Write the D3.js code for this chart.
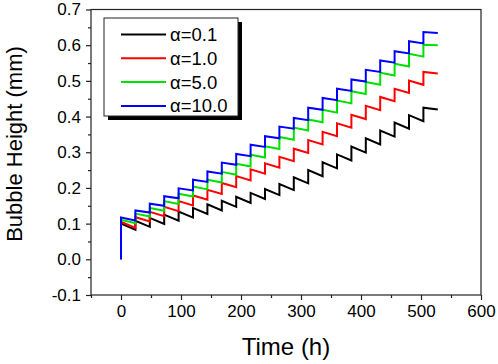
<!DOCTYPE html>
<html>
<head>
<meta charset="utf-8">
<script src="https://cdn.jsdelivr.net/npm/d3@7"></script>
<style>
body { margin: 0; background: #fff; }
svg { display: block; font-family: "Liberation Sans", Arial, sans-serif; }
.axis path, .axis line { stroke: #222; stroke-width: 1.2; }
.axis text { font-size: 17px; fill: #000; }
.series { fill: none; stroke-width: 2; stroke-linejoin: miter; }
</style>
</head>
<body>
<svg id="chart" width="498" height="364"></svg>
<script>
// start time of each charge cycle (h), last entry = end of run
var cycleTimes = [0, 24, 48, 72, 96, 120, 144, 168, 192, 216, 240, 264, 288, 312, 336, 360, 384, 408, 432, 456, 480, 504, 528];

// bubble height right after each step (mm)
var peakA01  = [0.100, 0.108, 0.116, 0.125, 0.134, 0.144, 0.154, 0.164, 0.175, 0.186, 0.197, 0.211, 0.230, 0.250, 0.272, 0.294, 0.316, 0.339, 0.361, 0.383, 0.404, 0.425];
var peakA1   = [0.105, 0.118, 0.133, 0.147, 0.163, 0.179, 0.195, 0.214, 0.233, 0.252, 0.269, 0.287, 0.310, 0.334, 0.357, 0.381, 0.405, 0.430, 0.455, 0.478, 0.501, 0.525];
var peakA5   = [0.111, 0.128, 0.144, 0.163, 0.184, 0.204, 0.223, 0.245, 0.268, 0.293, 0.317, 0.343, 0.369, 0.392, 0.419, 0.445, 0.471, 0.497, 0.523, 0.548, 0.576, 0.601];
var peakA10  = [0.117, 0.137, 0.156, 0.177, 0.199, 0.223, 0.246, 0.271, 0.295, 0.321, 0.345, 0.372, 0.396, 0.425, 0.452, 0.478, 0.504, 0.531, 0.557, 0.583, 0.611, 0.637];

// bubble height at the end of each cycle (mm)
var lowA01   = [0.083, 0.091, 0.099, 0.108, 0.117, 0.127, 0.137, 0.147, 0.158, 0.169, 0.180, 0.194, 0.213, 0.233, 0.255, 0.277, 0.299, 0.322, 0.344, 0.366, 0.387, 0.420];
var lowA1    = [0.088, 0.106, 0.121, 0.135, 0.151, 0.167, 0.183, 0.202, 0.221, 0.240, 0.257, 0.275, 0.298, 0.322, 0.345, 0.369, 0.393, 0.418, 0.443, 0.466, 0.489, 0.521];
var lowA5    = [0.101, 0.120, 0.136, 0.155, 0.176, 0.196, 0.215, 0.237, 0.260, 0.285, 0.309, 0.335, 0.361, 0.384, 0.411, 0.437, 0.463, 0.489, 0.515, 0.540, 0.568, 0.600];
var lowA10   = [0.109, 0.131, 0.150, 0.171, 0.193, 0.217, 0.240, 0.265, 0.289, 0.315, 0.339, 0.366, 0.390, 0.419, 0.446, 0.472, 0.498, 0.525, 0.551, 0.577, 0.605, 0.634];

var seriesNames = ['α=0.1', 'α=1.0', 'α=5.0', 'α=10.0'];
var seriesColors = ['#000000', '#ff0000', '#00e000', '#0000ff'];

var xTicks = [0, 100, 200, 300, 400, 500, 600];
var xMinor = [-50, 50, 150, 250, 350, 450, 550];
var yTicks = [-0.1, 0.0, 0.1, 0.2, 0.3, 0.4, 0.5, 0.6, 0.7];
var yMinor = [-0.05, 0.05, 0.15, 0.25, 0.35, 0.45, 0.55, 0.65];

var svg = d3.select('#chart');
var m = {left: 91, right: 481, top: 9.5, bottom: 295};

var x = d3.scaleLinear().domain([-50, 600]).range([m.left, m.right]);
var y = d3.scaleLinear().domain([-0.1, 0.7]).range([m.bottom, m.top]);

function cycles(peaks, lows){
	var pts = [[0, 0]];
	peaks.forEach(function(p, i){
		pts.push([cycleTimes[i], p]);
		pts.push([cycleTimes[i + 1], lows[i]]);
	});
	return pts;
}

var data = [
	cycles(peakA01, lowA01),
	cycles(peakA1, lowA1),
	cycles(peakA5, lowA5),
	cycles(peakA10, lowA10)
];

var linegen = d3.line()
	.x(function(d){ return x(d[0]) })
	.y(function(d){ return y(d[1]) });

// frame
svg.append('rect')
	.attr('x', m.left).attr('y', m.top)
	.attr('width', m.right - m.left).attr('height', m.bottom - m.top)
	.attr('fill', 'none').attr('stroke', '#222').attr('stroke-width', 1.2);

// axes
svg.append('g').attr('class', 'axis')
	.attr('transform', 'translate(0,' + m.bottom + ')')
	.call(d3.axisBottom(x).tickValues(xTicks).tickSize(5).tickSizeOuter(0).tickPadding(5))
	.call(function(g){ g.select('.domain').remove() });
svg.append('g').attr('class', 'axis')
	.attr('transform', 'translate(0,' + m.bottom + ')')
	.call(d3.axisBottom(x).tickValues(xMinor).tickSize(3).tickFormat(''))
	.call(function(g){ g.select('.domain').remove() });

svg.append('g').attr('class', 'axis')
	.attr('transform', 'translate(' + m.left + ',0)')
	.call(d3.axisLeft(y).tickValues(yTicks).tickSize(5).tickPadding(5)
		.tickFormat(function(d){ return d.toFixed(1) }))
	.call(function(g){ g.select('.domain').remove() });
svg.append('g').attr('class', 'axis')
	.attr('transform', 'translate(' + m.left + ',0)')
	.call(d3.axisLeft(y).tickValues(yMinor).tickSize(3).tickFormat(''))
	.call(function(g){ g.select('.domain').remove() });

// titles
svg.append('text')
	.attr('x', (m.left + m.right) / 2).attr('y', 355)
	.attr('text-anchor', 'middle').attr('font-size', 24)
	.text('Time (h)');
svg.append('text')
	.attr('transform', 'translate(22,' + 144 + ') rotate(-90)')
	.attr('text-anchor', 'middle').attr('font-size', 22)
	.text('Bubble Height (mm)');

// series
svg.selectAll('.series')
	.data(data)
	.enter()
	.append('path')
	.attr('class', 'series')
	.attr('stroke', function(d, i){ return seriesColors[i] })
	.attr('d', linegen);

// legend
var lg = svg.append('g').attr('transform', 'translate(104,18)');
lg.append('rect').attr('x', 4).attr('y', 4).attr('width', 134).attr('height', 98).attr('fill', '#000');
lg.append('rect').attr('x', 0).attr('y', 0).attr('width', 134).attr('height', 98)
	.attr('fill', '#fff').attr('stroke', '#222').attr('stroke-width', 1);
var rows = lg.selectAll('.legend-row')
	.data(seriesNames)
	.enter()
	.append('g')
	.attr('class', 'legend-row')
	.attr('transform', function(d, i){ return 'translate(0,' + (16.5 + i * 23.8) + ')' });
rows.append('line')
	.attr('x1', 17).attr('x2', 62)
	.attr('stroke', function(d, i){ return seriesColors[i] })
	.attr('stroke-width', 2);
rows.append('text')
	.attr('x', 66).attr('dy', '0.35em').attr('font-size', 18.5)
	.text(function(d){ return d });
</script>
</body>
</html>
